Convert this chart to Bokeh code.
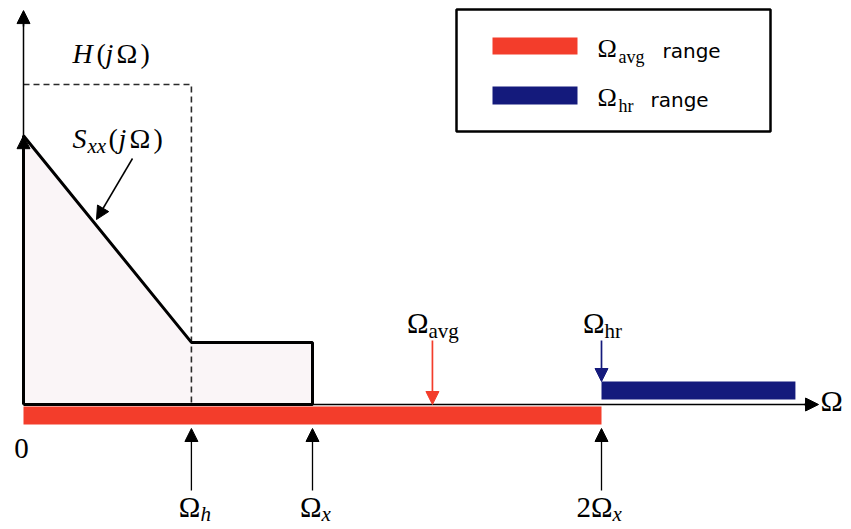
from bokeh.plotting import figure
from bokeh.models import Range1d, Arrow, NormalHead, ColumnDataSource
from bokeh.core.properties import value
from bokeh.embed import file_html
from bokeh.resources import INLINE

# ---------------- data (units: Omega_x = 1, H level = 1) ----------------
omega_h = 0.581
omega_x = 1.0
two_omega_x = 2.0
omega_avg = 1.415
omega_hr = 2.0
omega_hr_end = 2.671
H_level = 1.0
Sxx_peak = 0.84
Sxx_floor = 0.194
x_axis_end = 2.751
y_axis_end = 1.231

spec_x = [0, 0, omega_h, omega_x, omega_x]
spec_y = [0, Sxx_peak, Sxx_floor, Sxx_floor, 0]
H_x = [0, omega_h, omega_h]
H_y = [H_level, H_level, 0]
avg_range = [0, two_omega_x]
hr_range = [omega_hr, omega_hr_end]
marker_x = [omega_h, omega_x, two_omega_x]
marker_main = ["Ω", "Ω", "2Ω"]
marker_sub = ["h", "x", "x"]

# ---------------- layout helpers (pixel -> data) ----------------
W, H = 851, 529
X0, SX = 23, 289.0
Y0, SY = 404, 320.0
def dx(px): return (px - X0) / SX
def dy(py): return (Y0 - py) / SY

RED = "#f33d2b"
BLUE = "#141a7c"
SERIF = value("Liberation Serif")
SANS = value("DejaVu Sans")
MID = 0.34  # distance (em) from baseline to middle of the font box

p = figure(width=W, height=H, output_backend="svg", toolbar_location=None,
           x_range=Range1d(dx(0), dx(W)), y_range=Range1d(dy(H), dy(0)),
           x_axis_location=None, y_axis_location=None, min_border=0,
           outline_line_color=None, background_fill_color="white",
           border_fill_color="white")
p.grid.visible = False

# spectrum fill
p.patch(spec_x, spec_y, fill_color="#faf5f7", line_color=None)
# dashed H(jΩ)
p.line(H_x, H_y, line_color="#2a2a2a", line_width=1.6, line_dash="6 4")

# axes
p.line([0, x_axis_end - 0.02], [0, 0], line_color="black", line_width=1.7)
p.line([0, 0], [0, y_axis_end - 0.02], line_color="black", line_width=1.5)
p.add_layout(Arrow(end=NormalHead(size=13, fill_color="black", line_color="black"),
                   x_start=x_axis_end - 0.05, y_start=0, x_end=x_axis_end, y_end=0,
                   line_width=1.7))
p.add_layout(Arrow(end=NormalHead(size=13, fill_color="black", line_color="black"),
                   x_start=0, y_start=y_axis_end - 0.05, x_end=0, y_end=y_axis_end,
                   line_width=1.5))

# spectrum outline
p.line(spec_x + [0], spec_y + [0], line_color="black", line_width=3)
p.add_layout(Arrow(end=NormalHead(size=13, fill_color="black", line_color="black"),
                   x_start=0, y_start=Sxx_peak - 0.05, x_end=0, y_end=Sxx_peak,
                   line_width=3))

# range bars
p.quad(left=[avg_range[0]], right=[avg_range[1]], top=[dy(406)], bottom=[dy(424)],
       fill_color=RED, line_color=None)
p.quad(left=[hr_range[0]], right=[hr_range[1]], top=[dy(381)], bottom=[dy(399)],
       fill_color=BLUE, line_color=None)

# bottom marker arrows
msrc = ColumnDataSource(dict(x=marker_x, y0=[dy(490)] * 3, y1=[dy(428)] * 3))
p.add_layout(Arrow(end=NormalHead(size=13, fill_color="black", line_color="black"),
                   x_start="x", y_start="y0", x_end="x", y_end="y1",
                   source=msrc, line_width=1.3))
# Ω_avg and Ω_hr arrows
p.add_layout(Arrow(end=NormalHead(size=13, fill_color=RED, line_color=RED),
                   x_start=omega_avg, y_start=dy(340), x_end=omega_avg, y_end=0,
                   line_color=RED, line_width=1.7))
p.add_layout(Arrow(end=NormalHead(size=13, fill_color=BLUE, line_color=BLUE),
                   x_start=omega_hr, y_start=dy(340), x_end=omega_hr, y_end=dy(381),
                   line_color=BLUE, line_width=1.7))
# Sxx pointer arrow
p.add_layout(Arrow(end=NormalHead(size=13, fill_color="black", line_color="black"),
                   x_start=dx(132), y_start=dy(158), x_end=dx(96), y_end=dy(219),
                   line_width=1.5))

def txt(x, base_px, s, size, font=SERIF, style="normal", align="left", xo=0, sub=0,
        color="black"):
    """x in data units; base_px = baseline in pixels from top."""
    y = dy(base_px + sub - MID * size)
    p.text(x=[x], y=[y], text=[s], text_font=font, text_font_size=value(f"{size}px"),
           text_font_style=style, text_align=align, text_baseline="middle",
           x_offset=xo, text_color=color)

# bottom marker labels
split = [9, 9, 11]
for xm, m, s, o in zip(marker_x, marker_main, marker_sub, split):
    txt(xm, 516, m, 29, align="right", xo=o)
    txt(xm, 516, s, 21, style="italic", align="left", xo=o, sub=5)

# Ω_avg / Ω_hr labels
txt(omega_avg, 332, "Ω", 29, align="right", xo=-4)
txt(omega_avg, 332, "avg", 21, align="left", xo=-4, sub=6)
txt(omega_hr, 332, "Ω", 29, align="right", xo=3)
txt(omega_hr, 332, "hr", 21, align="left", xo=3, sub=6)

# axis labels
txt(dx(820), 410, "Ω", 30)
txt(dx(21), 458, "0", 29, align="center")

# H(jΩ)
txt(dx(72), 63, "H", 28, style="italic")
txt(dx(96), 63, "(", 28)
txt(dx(105), 63, "j", 28, style="italic")
txt(dx(116), 63, "Ω", 28)
txt(dx(140), 63, ")", 28)
# Sxx(jΩ)
txt(dx(72), 148, "S", 28, style="italic")
txt(dx(87), 148, "xx", 21, style="italic", sub=5)
txt(dx(108), 148, "(", 28)
txt(dx(118), 148, "j", 28, style="italic")
txt(dx(129), 148, "Ω", 28)
txt(dx(153), 148, ")", 28)

# legend
p.quad(left=[dx(456)], right=[dx(770)], top=[dy(9)], bottom=[dy(131)],
       fill_color="white", line_color="black", line_width=2.5)
p.quad(left=[dx(492)], right=[dx(577)], top=[dy(37)], bottom=[dy(54)],
       fill_color=RED, line_color=None)
p.quad(left=[dx(492)], right=[dx(577)], top=[dy(86)], bottom=[dy(104)],
       fill_color=BLUE, line_color=None)
txt(dx(597), 57, "Ω", 26)
txt(dx(618), 57, "avg", 18, sub=6)
txt(dx(662), 57, "range", 20, font=SANS)
txt(dx(597), 106, "Ω", 26)
txt(dx(618), 106, "hr", 18, sub=6)
txt(dx(650), 106, "range", 20, font=SANS)

open("out.html", "w").write(file_html(p, INLINE))
